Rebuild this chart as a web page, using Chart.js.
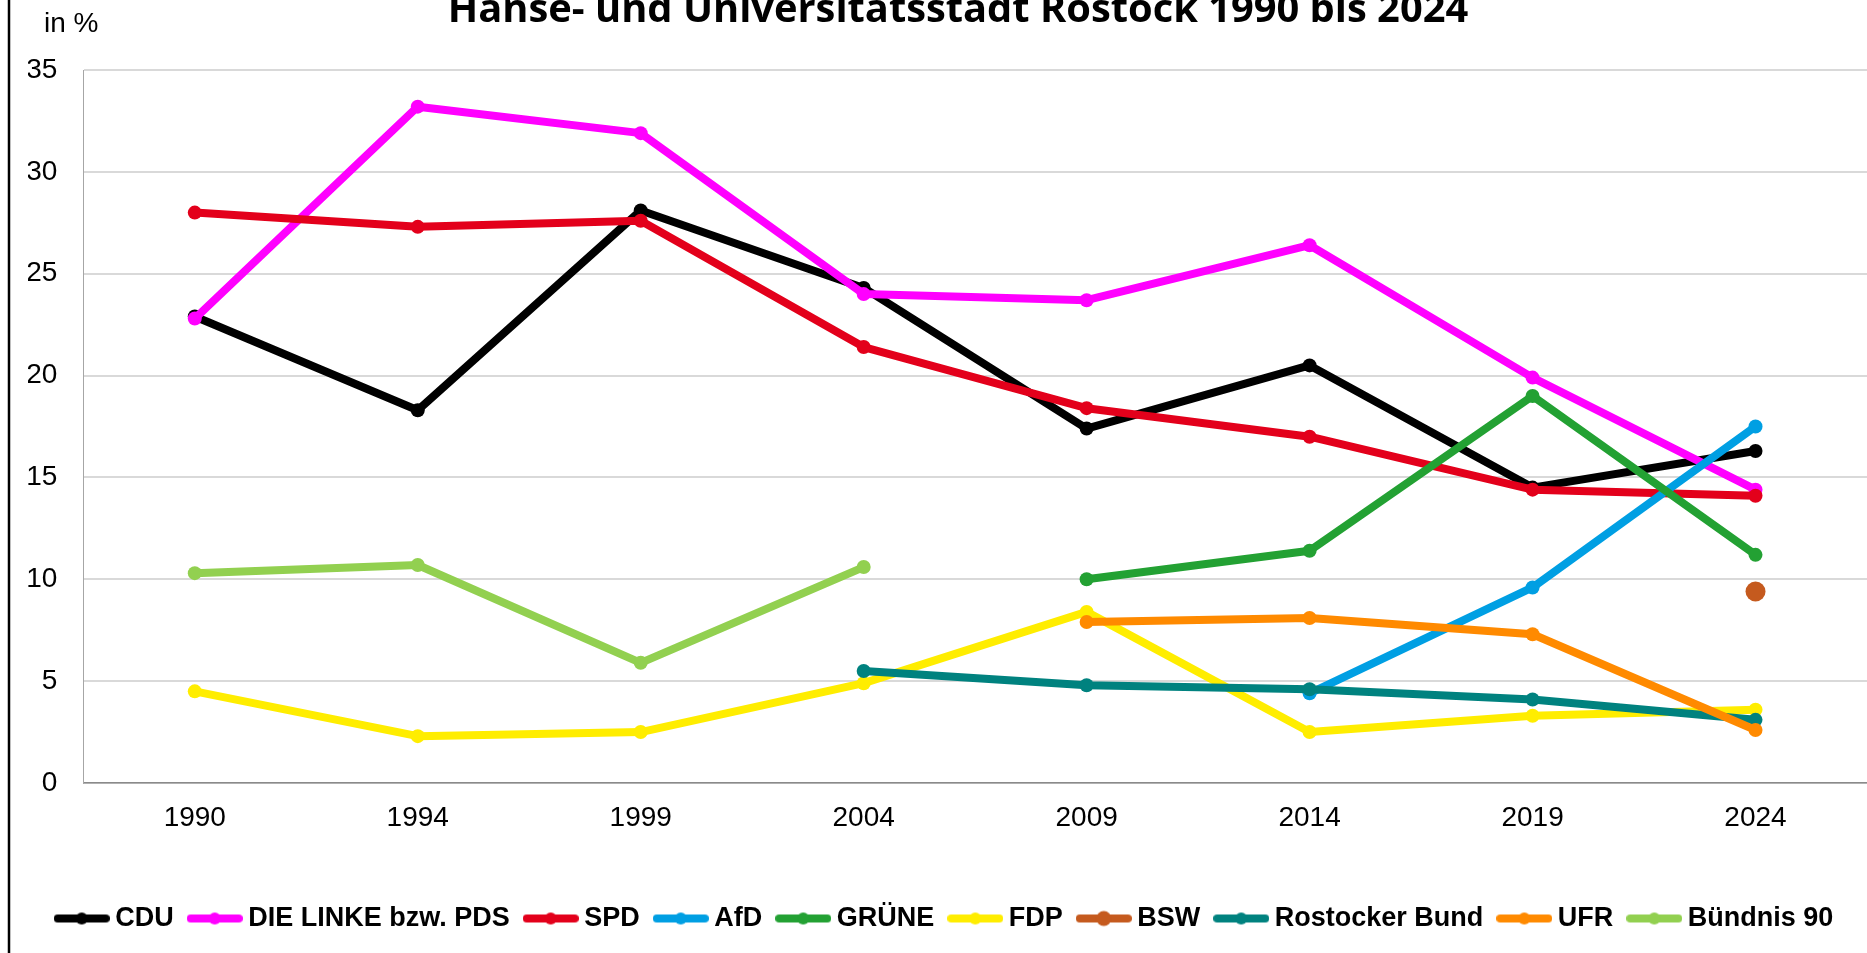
<!DOCTYPE html>
<html>
<head>
<meta charset="utf-8">
<script src="https://cdn.jsdelivr.net/npm/chart.js@4"></script>
<style>
  html, body { margin: 0; padding: 0; background: #fff; overflow: hidden; }
  #wrap { position: relative; width: 1867px; height: 953px; }
</style>
</head>
<body>
<div id="wrap"><canvas id="chart"></canvas></div>
<script>
const titleText = 'Hanse- und Universitätsstadt Rostock 1990 bis 2024';
const unitText = 'in %';

const years = ['1990', '1994', '1999', '2004', '2009', '2014', '2019', '2024'];
const yTicks = [0, 5, 10, 15, 20, 25, 30, 35];

const cdu        = [22.9, 18.3, 28.1, 24.3, 17.4, 20.5, 14.5, 16.3];
const linke      = [22.8, 33.2, 31.9, 24.0, 23.7, 26.4, 19.9, 14.4];
const spd        = [28.0, 27.3, 27.6, 21.4, 18.4, 17.0, 14.4, 14.1];
const afd        = [null, null, null, null, null, 4.4, 9.6, 17.5];
const gruene     = [null, null, null, null, 10.0, 11.4, 19.0, 11.2];
const fdp        = [4.5, 2.3, 2.5, 4.9, 8.4, 2.5, 3.3, 3.6];
const bsw        = [null, null, null, null, null, null, null, 9.4];
const rostBund   = [null, null, null, 5.5, 4.8, 4.6, 4.1, 3.1];
const ufr        = [null, null, null, null, 7.9, 8.1, 7.3, 2.6];
const buendnis90 = [10.3, 10.7, 5.9, 10.6, null, null, null, null];

const seriesNames = ['CDU', 'DIE LINKE bzw. PDS', 'SPD', 'AfD', 'GRÜNE', 'FDP', 'BSW', 'Rostocker Bund', 'UFR', 'Bündnis 90'];
const seriesData = [cdu, linke, spd, afd, gruene, fdp, bsw, rostBund, ufr, buendnis90];
const seriesColors = ['#000000', '#FF00FF', '#E3001B', '#009FE3', '#23A133', '#FFED00', '#C55A1E', '#00827F', '#FF8A00', '#92D050'];

// little line + dot picture for the legend
function legendSymbol(color, dot) {
  const c = document.createElement('canvas');
  c.width = 56;
  c.height = 18;
  const g = c.getContext('2d');
  g.strokeStyle = color;
  g.lineWidth = 8;
  g.lineCap = 'round';
  g.beginPath();
  g.moveTo(4, 9);
  g.lineTo(52, 9);
  g.stroke();
  g.fillStyle = color;
  g.beginPath();
  g.arc(28, 9, dot, 0, Math.PI * 2);
  g.fill();
  return c;
}

const datasets = seriesNames.map((name, i) => ({
  label: name,
  data: seriesData[i],
  borderColor: seriesColors[i],
  backgroundColor: seriesColors[i],
  pointBackgroundColor: seriesColors[i],
  pointBorderWidth: 0,
  pointRadius: name === 'BSW' ? 10 : 7,
  borderWidth: 8,
  borderCapStyle: 'round',
  borderJoinStyle: 'round',
  spanGaps: false,
  order: seriesNames.length - i
}));

const decorations = {
  id: 'decorations',
  afterDraw(chart) {
    const ctx = chart.ctx;
    ctx.save();
    // left frame line
    ctx.strokeStyle = '#000';
    ctx.lineWidth = 2.5;
    ctx.beginPath();
    ctx.moveTo(9, 0);
    ctx.lineTo(9, chart.height);
    ctx.stroke();
    // unit label
    ctx.fillStyle = '#000';
    ctx.textAlign = 'left';
    ctx.textBaseline = 'alphabetic';
    ctx.font = '28px "Liberation Sans", Arial, sans-serif';
    ctx.fillText(unitText, 44, 32);
    // title, cut at the top like the original
    ctx.font = 'bold 100px "Open Sans", sans-serif';
    const w = ctx.measureText(titleText).width;
    const size = 100 * 1021 / w;
    ctx.font = 'bold ' + size.toFixed(2) + 'px "Open Sans", sans-serif';
    ctx.textAlign = 'center';
    ctx.fillText(titleText, 958, 22);
    ctx.restore();
  }
};

new Chart(document.getElementById('chart'), {
  type: 'line',
  data: { labels: years, datasets },
  options: {
    responsive: true,
    maintainAspectRatio: false,
    animation: false,
    layout: { autoPadding: false, padding: { top: 70, left: 28, right: 0, bottom: 11 } },
    plugins: {
      tooltip: { enabled: false },
      title: { display: false },
      legend: {
        position: 'bottom',
        labels: {
          usePointStyle: true,
          pointStyleWidth: 40,
          padding: 21,
          color: '#000',
          font: { family: '"Liberation Sans", Arial, sans-serif', size: 27, weight: 'bold' },
          generateLabels: (chart) => chart.data.datasets.map((ds, i) => ({
            text: ds.label,
            datasetIndex: i,
            fillStyle: ds.borderColor,
            strokeStyle: ds.borderColor,
            lineWidth: 0,
            fontColor: '#000',
            hidden: !chart.isDatasetVisible(i),
            pointStyle: legendSymbol(ds.borderColor, ds.label === 'BSW' ? 7.5 : 6)
          }))
        }
      }
    },
    scales: {
      x: {
        offset: true,
        grid: { display: false, drawTicks: false },
        border: { display: true, color: '#8A8A8A', width: 1.5 },
        ticks: {
          color: '#000',
          padding: 18,
          maxRotation: 0,
          font: { family: '"Liberation Sans", Arial, sans-serif', size: 28 }
        },
        afterFit: (scale) => { scale.height = 101; }
      },
      y: {
        min: 0,
        max: 35,
        afterBuildTicks: (scale) => { scale.ticks = yTicks.map(v => ({ value: v })); },
        grid: { color: '#D9D9D9', lineWidth: 2, drawTicks: false },
        border: { display: true, color: '#A6A6A6', width: 1 },
        ticks: {
          color: '#000',
          padding: 26,
          font: { family: '"Liberation Sans", Arial, sans-serif', size: 28 }
        },
        afterFit: (scale) => { scale.width = 55.3; }
      }
    }
  },
  plugins: [decorations]
});
</script>
</body>
</html>
